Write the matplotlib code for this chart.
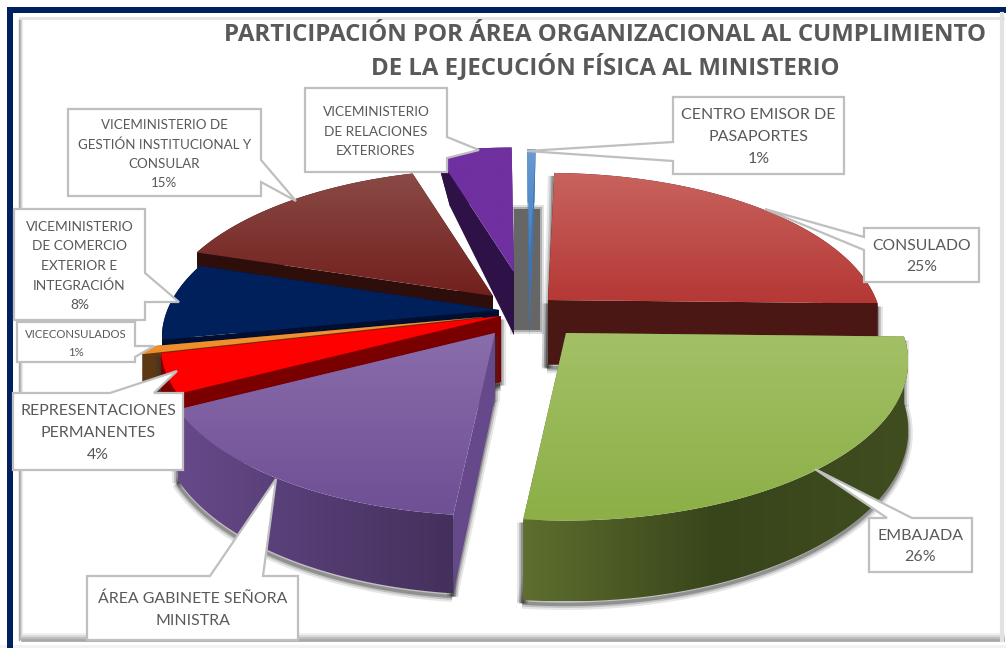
#!/usr/bin/python3

import numpy as np
import matplotlib
matplotlib.use('Agg')
import matplotlib.pyplot as plt
from matplotlib.colors import LinearSegmentedColormap
from matplotlib.patches import Polygon, Rectangle

# slice values, clockwise from the top (labels below carry the rounded figures)
areas = ['CENTRO EMISOR DE PASAPORTES', 'CONSULADO', 'EMBAJADA', 'ÁREA GABINETE SEÑORA MINISTRA',
         'REPRESENTACIONES PERMANENTES', 'VICECONSULADOS', 'VICEMINISTERIO DE COMERCIO EXTERIOR E INTEGRACIÓN',
         'VICEMINISTERIO DE GESTIÓN INSTITUCIONAL Y CONSULAR', 'VICEMINISTERIO DE RELACIONES EXTERIORES']
values = [0.5, 25, 26.3, 15.6, 4, 0.7, 8, 15.4, 4.5]

title_lines = ['PARTICIPACIÓN POR ÁREA ORGANIZACIONAL AL CUMPLIMIENTO',
               'DE LA EJECUCIÓN FÍSICA AL MINISTERIO']

label_texts = ['CENTRO EMISOR DE\nPASAPORTES\n1%', 'CONSULADO\n25%', 'EMBAJADA\n26%',
               'ÁREA GABINETE SEÑORA\nMINISTRA', 'REPRESENTACIONES\nPERMANENTES\n4%',
               'VICECONSULADOS\n1%', 'VICEMINISTERIO\nDE COMERCIO\nEXTERIOR E\nINTEGRACIÓN\n8%',
               'VICEMINISTERIO DE\nGESTIÓN INSTITUCIONAL Y\nCONSULAR\n15%',
               'VICEMINISTERIO\nDE RELACIONES\nEXTERIORES']

# styles: top gradient (back to front), wall gradient (left to right)
top_colors = [('#6A9BD2', '#3A75B8'), ('#C8635E', '#B53835'), ('#A3C066', '#8CAF47'), ('#8A6DAB', '#6F4F95'),
              ('#FF0000', '#FF0000'), ('#F2973A', '#EE8C2A'), ('#00205C', '#00205C'), ('#8A4A46', '#72201D'),
              ('#7030A0', '#7030A0')]
wall_colors = [('#3A75B8', '#3A75B8'), ('#4A1714', '#4A1714'), ('#5E6E2E', '#38451B', '#3F4D1F'),
               ('#66498A', '#44305C'), ('#7A0000', '#7A0000'), ('#5E3813', '#5E3813'), ('#000F30', '#000F30'),
               ('#2E0E0B', '#2E0E0B'), ('#2E1247', '#2E1247')]

# pull of each slice away from the pie centre, in pixels, and its size change from that pull
explode = [(4.5, -45), (23, -18), (41, 15), (-30, 15), (-24, -2), (-42, -1), (-26, -8), (-32, -22), (-11, -46)]
zooms = [0.955, 0.98, 1.005, 0.98, 1.0, 1.0, 0.99, 0.98, 0.96]
draw_order = [8, 0, 7, 1, 6, 5, 4, 3, 2]
has_shadow = [False, True, True, True, True, False, False, False, False]

center = (525, 318)
radius_x = 335
radius_y = 153
persp = 0.18
depth = 66
start_angle = -0.5

# callouts: box (x0, y0, x1, y1), tip, side with the pointer, pointer base, font size
boxes = [(673, 97, 844, 174), (864, 228, 979, 282), (869, 518, 972, 572), (87, 576, 298, 640),
         (13, 393, 183, 470), (17, 322, 135, 362), (14, 209, 145, 320), (68, 109, 261, 196), (305, 88, 447, 172)]
tips = [(527, 151), (765, 209), (815, 469), (276, 479), (177, 371), (154, 346), (179, 302), (296, 201), (479, 150)]
sides = ['left', 'left', 'top', 'top', 'top', 'right', 'right', 'right', 'right']
bases = [(142, 161), (237, 250), (887, 912), (210, 263), (110, 154), (346, 357), (273, 302), (160, 182), (137, 158)]
label_sizes = [11.5, 11.3, 11.5, 11.4, 11.4, 8.2, 9.9, 9.6, 9.8]


def project(theta, apex, zoom, h=0.0):
    u = np.sin(theta)
    w = np.cos(theta)
    s = zoom / (1 + persp * w)
    x = apex[0] + radius_x * u * s - h * 58 * u * np.clip(w, 0, 1) ** 3
    y = apex[1] - radius_y * w * s + h * depth * s
    return x, y


def grad_fill(ax, pts, colors, vertical, zorder):
    pts = np.array(pts)
    cmap = LinearSegmentedColormap.from_list('g', colors)
    g = np.linspace(0, 1, 128)
    g = g[:, None] if vertical else g[None, :]
    x0, x1 = pts[:, 0].min(), pts[:, 0].max()
    y0, y1 = pts[:, 1].min(), pts[:, 1].max()
    im = ax.imshow(g, cmap=cmap, extent=(x0, x1, y1, y0), aspect='auto', zorder=zorder, interpolation='bilinear')
    clip = Polygon(pts, closed=True, fc='none', ec='none', transform=ax.transData)
    ax.add_patch(clip)
    im.set_clip_path(clip)


def callout(box, tip, side, base):
    x0, y0, x1, y1 = box
    if side == 'left':
        return [(x0, y0), (x1, y0), (x1, y1), (x0, y1), (x0, base[1]), tip, (x0, base[0])]
    if side == 'right':
        return [(x0, y0), (x1, y0), (x1, base[0]), tip, (x1, base[1]), (x1, y1), (x0, y1)]
    return [(x0, y0), (base[0], y0), tip, (base[1], y0), (x1, y0), (x1, y1), (x0, y1)]


fig = plt.figure(figsize=(10.06, 6.48), dpi=100)
ax = fig.add_axes([0, 0, 1, 1])
ax.set_xlim(0, 1006)
ax.set_ylim(648, 0)
ax.axis('off')

# frame
ax.add_patch(Rectangle((0, 645), 1006, 3, fc='#F2F2F2', ec='none', zorder=1))
ax.add_patch(Rectangle((7, 7), 999, 6, fc='#002060', ec='none', zorder=1))
ax.add_patch(Rectangle((7, 7), 6, 641, fc='#002060', ec='none', zorder=1))
for i, c in enumerate(['#F0F0F0', '#D8D8D8', '#BDBDBD', '#A8A8A8']):
    ax.plot([18 + 4 - i, 18 + 4 - i], [19, 637 + i], color=c, lw=1, zorder=1)
    ax.plot([22, 1003], [634 + i * 2, 634 + i * 2], color=c, lw=2, zorder=1)
ax.plot([20, 1003], [18, 18], color='#E4E4E4', lw=2, zorder=1)
ax.plot([1002, 1002], [14, 640], color='#E2E2E2', lw=3, zorder=1)

# pie, drawn from the back slices to the front ones
fractions = np.array(values) / sum(values)
edges = np.radians(start_angle + 360 * np.concatenate([[0], np.cumsum(fractions)]))

# gray shadow behind the blue sliver
blue_apex = (center[0] + explode[0][0], center[1] + explode[0][1])
for grow, al in ((4, 0.2), (2, 0.4), (0, 1.0)):
    ax.add_patch(Rectangle((blue_apex[0] - 15 - grow, blue_apex[1] - 64 - grow), 26 + 2 * grow, 121 + 2 * grow,
                           fc='#666666', ec='none', alpha=al, zorder=2))

z = 3
for i in draw_order:
    apex = (center[0] + explode[i][0], center[1] + explode[i][1])
    t = np.linspace(edges[i], edges[i + 1], 80)
    ax_top = [project(a, apex, zooms[i]) for a in t]
    ax_low = [project(a, apex, zooms[i], 1.0) for a in t]
    apex_low = (apex[0], apex[1] + depth * zooms[i])

    if has_shadow[i]:
        # soft edge along the lower outline only
        rims = [ax_low, [ax_top[0], ax_low[0]], [ax_top[-1], ax_low[-1]], [apex, apex_low],
                [apex_low, ax_low[0]], [apex_low, ax_low[-1]]]
        for lw, al in ((8, 0.12), (5, 0.2), (2.5, 0.35)):
            for rim in rims:
                pts = np.array(rim)
                ax.plot(pts[:, 0] - 1, pts[:, 1] + 3, color='#333333', lw=lw, alpha=al, zorder=z,
                        solid_capstyle='butt')
        z += 1

    # the cut walls are flat, only the round wall carries the gradient
    flat = (wall_colors[i][0], wall_colors[i][0])
    grad_fill(ax, [apex, ax_top[0], ax_low[0], apex_low], flat, False, z)
    grad_fill(ax, [apex, ax_top[-1], ax_low[-1], apex_low], flat, False, z + 1)
    grad_fill(ax, ax_top + ax_low[::-1], wall_colors[i], False, z + 2)
    grad_fill(ax, [apex] + ax_top, top_colors[i], True, z + 3)
    z += 4

# title
for line, y in zip(title_lines, (35, 66.5)):
    ax.text(605, y, line, ha='center', va='center', fontsize=17.3, fontweight='bold', family='Open Sans',
            color='#595959', zorder=200)

# callouts
for i in range(len(areas)):
    ax.add_patch(Polygon(callout(boxes[i], tips[i], sides[i], bases[i]), closed=True, fc='white', ec='#BFBFBF',
                         lw=1.6, zorder=150 + i))
    x0, y0, x1, y1 = boxes[i]
    ax.text((x0 + x1) / 2, (y0 + y1) / 2 + 1.5, label_texts[i], ha='center', va='center', fontsize=label_sizes[i],
            family='Lato', color='#595959', linespacing=1.72, zorder=170 + i)

ax.set_xlim(0, 1006)
ax.set_ylim(648, 0)
fig.savefig('out.png', dpi=100, facecolor='white')
